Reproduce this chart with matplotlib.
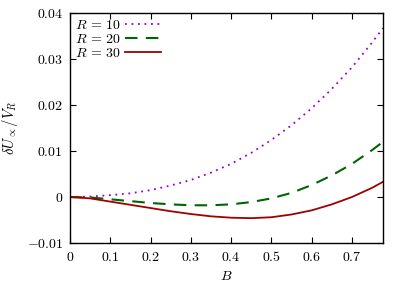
import matplotlib
matplotlib.use("Agg")
import matplotlib.pyplot as plt
from matplotlib.ticker import FixedLocator, FuncFormatter

plt.rcParams['mathtext.fontset'] = 'cm'
plt.rcParams['font.family'] = ['DejaVu Serif']

B = [0, 0.05, 0.1, 0.15, 0.2, 0.25, 0.3, 0.35, 0.4, 0.45, 0.5, 0.55, 0.6, 0.65, 0.7, 0.75, 0.777]
R10 = [0, 0.0001, 0.0004, 0.0008, 0.0015, 0.0025, 0.0037, 0.0053, 0.0072, 0.0096, 0.0124,
       0.0156, 0.0193, 0.0235, 0.0282, 0.0336, 0.0367]
R20 = [0, -0.0001, -0.0005, -0.0009, -0.0013, -0.0016, -0.0018, -0.0018, -0.0016, -0.0011, -0.0003,
       0.0009, 0.0026, 0.0047, 0.0072, 0.0102, 0.0120]
R30 = [0, -0.0003, -0.0010, -0.0017, -0.0024, -0.0031, -0.0037, -0.0042, -0.0045, -0.0046, -0.0044,
       -0.0038, -0.0029, -0.0016, 0.0000, 0.0020, 0.0033]
labels = [r'$R\,=\,10$', r'$R\,=\,20$', r'$R\,=\,30$']
xticks = [0, 0.1, 0.2, 0.3, 0.4, 0.5, 0.6, 0.7]
yticks = [-0.01, 0, 0.01, 0.02, 0.03, 0.04]

fig = plt.figure(figsize=(4.07, 2.85), dpi=100)
ax = fig.add_axes([70/407, 42/285, 313/407, 230/285])

ax.plot(B, R10, color='#9400d3', linestyle=(0, (1, 2.6)), lw=1.3, label=labels[0])
ax.plot(B, R20, color='#006400', linestyle=(0, (6, 4)), lw=1.5, label=labels[1])
ax.plot(B, R30, color='#a00000', linestyle='-', lw=1.3, label=labels[2])

ax.set_xlim(0, 0.777)
ax.set_ylim(-0.01, 0.04)
ax.xaxis.set_major_locator(FixedLocator(xticks))
ax.yaxis.set_major_locator(FixedLocator(yticks))

def fmt(v, pos):
    s = ('%g' % round(v, 4))
    return '$' + s + '$'

ax.xaxis.set_major_formatter(FuncFormatter(fmt))
ax.yaxis.set_major_formatter(FuncFormatter(fmt))
ax.tick_params(direction='in', top=True, right=True, length=4, width=0.8, labelsize=10, pad=5)
for sp in ax.spines.values():
    sp.set_linewidth(1.0)

ax.set_xlabel(r'$B$', fontsize=10, labelpad=4)
ax.set_ylabel(r'$\delta U_{\propto}/V_R$', fontsize=10.5, labelpad=5)

leg = ax.legend(loc='upper left', frameon=False, markerfirst=False, fontsize=10,
                handlelength=2.6, handletextpad=0.3, labelspacing=0.0,
                borderaxespad=0.3, borderpad=0.05)

fig.savefig('out.png', dpi=100)
